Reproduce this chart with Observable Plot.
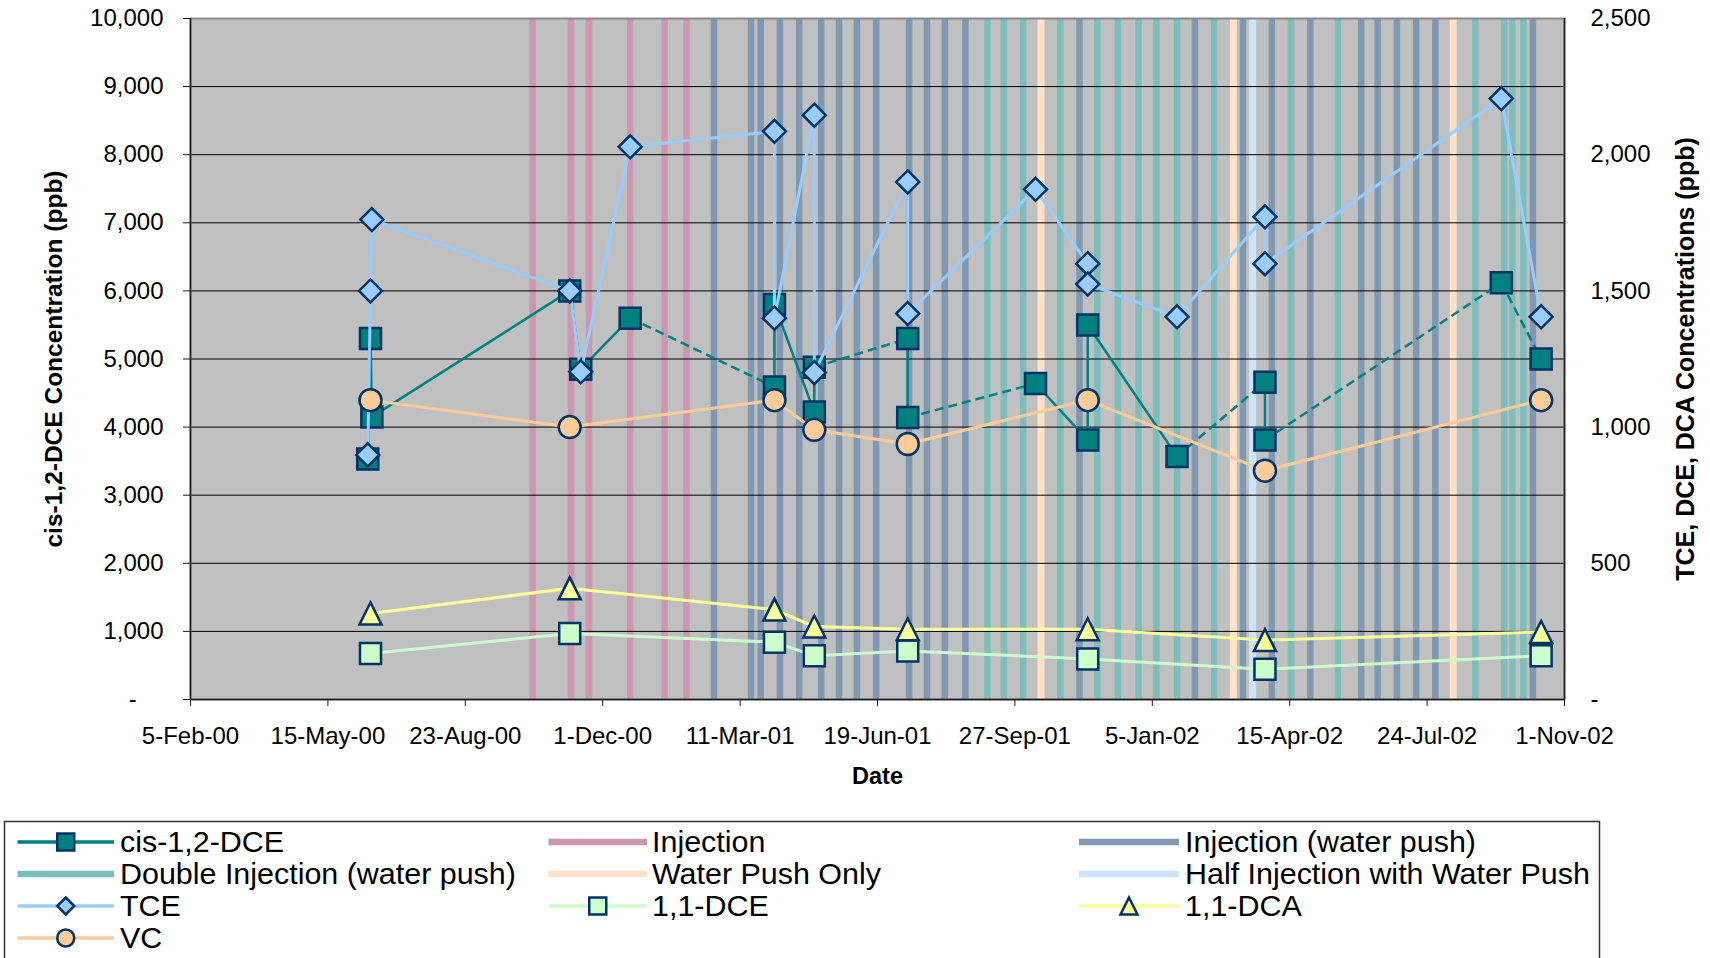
<!DOCTYPE html>
<html>
<head>
<meta charset="utf-8">
<script src="https://cdn.jsdelivr.net/npm/d3@7"></script>
<script src="https://cdn.jsdelivr.net/npm/@observablehq/plot@0.6"></script>
<style>
html, body { margin: 0; padding: 0; background: #fff; }
#wrap { position: relative; width: 1710px; height: 958px; overflow: hidden; font-family: "Liberation Sans", Arial, sans-serif; }
#wrap svg { display: block; }
</style>
</head>
<body>
<div id="wrap"></div>
<script>
// ---------- DATA ----------
const xTickLabels = ["5-Feb-00","15-May-00","23-Aug-00","1-Dec-00","11-Mar-01","19-Jun-01","27-Sep-01","5-Jan-02","15-Apr-02","24-Jul-02","1-Nov-02"];
const yLeftTicks = [0,1000,2000,3000,4000,5000,6000,7000,8000,9000,10000];
const yRightTicks = [0,500,1000,1500,2000,2500];

// cis-1,2-DCE (ppb, left axis)
const cisDates = ["2000-06-13","2000-06-15","2000-06-16","2000-11-07","2000-11-15","2000-12-21","2001-04-05","2001-04-05","2001-05-04","2001-05-04","2001-07-11","2001-07-11","2001-10-12","2001-11-19","2001-11-19","2002-01-23","2002-03-28","2002-03-28","2002-09-16","2002-10-15"];
const cisValues = [3530,5300,4150,6000,4850,5600,4590,5800,4220,4880,5300,4140,4640,3810,5500,3570,4660,3810,6120,5000];
const cisDashedSegments = [6,10,12,16,18,19];

// TCE (ppb, right axis)
const tceDates = ["2000-06-13","2000-06-15","2000-06-16","2000-11-07","2000-11-15","2000-12-21","2001-04-05","2001-04-05","2001-05-04","2001-05-04","2001-07-11","2001-07-11","2001-10-12","2001-11-19","2001-11-19","2002-01-23","2002-03-28","2002-03-28","2002-09-16","2002-10-15"];
const tceValues = [898,1500,1762,1500,1203,2029,2086,1400,2145,1200,1900,1417,1873,1600,1525,1405,1772,1600,2206,1405];

// 1,1-DCE, 1,1-DCA, VC (ppb, right axis)
const otherDates = ["2000-06-15","2000-11-07","2001-04-05","2001-05-04","2001-07-11","2001-11-19","2002-03-28","2002-10-15"];
const dce11Values = [169,242,210,161,178,149,111,161];
const dca11Values = [316,408,330,268,258,258,218,248];
const vcValues = [1099,1000,1099,990,938,1099,840,1099];

// event dates (vertical lines)
const injectionDates = ["2000-10-11","2000-11-08","2000-11-21","2000-12-21","2001-01-15","2001-01-31"];
const injectionWaterPushDates = ["2001-02-20","2001-03-19","2001-03-26","2001-04-09","2001-04-23","2001-05-09","2001-05-22","2001-06-04","2001-06-18","2001-07-12","2001-07-25","2001-08-07","2001-08-22","2001-11-13","2002-02-05","2002-03-12","2002-04-02","2002-04-30","2002-06-06","2002-06-18","2002-07-02","2002-07-16","2002-07-30","2002-10-09"];
const doubleInjectionDates = ["2001-09-07","2001-09-19","2001-10-03","2001-10-30","2001-11-26","2001-12-11","2001-12-26","2002-01-08","2002-01-23","2002-02-19","2002-04-16","2002-05-20","2002-08-28","2002-09-18","2002-09-24","2002-10-02"];
const waterPushOnlyDates = ["2001-10-16","2002-03-05","2002-08-12"];
const halfInjectionDates = ["2002-03-19"];

const legendLabels = ["cis-1,2-DCE","Injection","Injection (water push)","Double Injection (water push)","Water Push Only","Half Injection with Water Push","TCE","1,1-DCE","1,1-DCA","VC"];

// ---------- STYLE ----------
const C = {
  cis: "#008080", tce: "#99CCFF", dce: "#CCFFCC", dca: "#FFFF99", vc: "#FFCC99",
  inj: "#CC97AF", injwp: "#8098B2", dbl: "#7DBEBC", wpo: "#FFE2C8", half: "#CCE4FF",
  edge: "#003366", bg: "#C0C0C0"
};
const FONT = "'Liberation Sans', Arial, sans-serif";

const parseISO = d3.utcParse("%Y-%m-%d");
const parseTick = d3.utcParse("%d-%b-%y");
const fmtTick = d3.utcFormat("%-d-%b-%y");
const xTicks = xTickLabels.map(parseTick);
const RIGHT = 10000 / 2500;

const toSeries = (dates, values, k = 1) => dates.map((d, i) => ({date: parseISO(d), value: values[i] * k}));
const cis = toSeries(cisDates, cisValues);
const tce = toSeries(tceDates, tceValues, RIGHT);
const dce = toSeries(otherDates, dce11Values, RIGHT);
const dca = toSeries(otherDates, dca11Values, RIGHT);
const vc = toSeries(otherDates, vcValues, RIGHT);
const cisSegs = cis.slice(1).map((p, k) => ({x1: cis[k].date, y1: cis[k].value, x2: p.date, y2: p.value, dashed: cisDashedSegments.includes(k + 1)}));

// Excel-like symbols centred on their bounding box
const half = size => Math.sqrt(size / Math.PI);
const symSquare = {draw(c, size) { const s = half(size); c.rect(-s, -s, 2 * s, 2 * s); }};
const symDiamond = {draw(c, size) { const s = half(size); c.moveTo(0, -s); c.lineTo(s, 0); c.lineTo(0, s); c.lineTo(-s, 0); c.closePath(); }};
const symTriangle = {draw(c, size) { const s = half(size); c.moveTo(0, -s); c.lineTo(s, s); c.lineTo(-s, s); c.closePath(); }};
const symCircle = {draw(c, size) { const s = half(size); c.moveTo(s, 0); c.arc(0, 0, s, 0, 2 * Math.PI); }};

const evRule = (dates, color, w) => Plot.ruleX(dates.map(parseISO), {x: d => d, stroke: color, strokeWidth: w});
const dotOpts = (sym, r, fill) => ({x: "date", y: "value", symbol: sym, r, fill, stroke: C.edge, strokeWidth: 2.5});

const W = 1710, H = 810;
const chart = Plot.plot({
  width: W, height: H,
  marginLeft: 190, marginRight: 146, marginTop: 18, marginBottom: 111,
  style: {fontFamily: FONT, fontSize: "24px", color: "#000", background: "#fff", overflow: "visible"},
  x: {type: "utc", domain: [xTicks[0], xTicks[xTicks.length - 1]]},
  y: {domain: [0, 10000]},
  marks: [
    Plot.frame({fill: C.bg}),
    evRule(injectionDates, C.inj, 6.5),
    evRule(injectionWaterPushDates, C.injwp, 6.5),
    evRule(doubleInjectionDates, C.dbl, 6.5),
    evRule(waterPushOnlyDates, C.wpo, 7),
    evRule(halfInjectionDates, C.half, 7),
    Plot.gridY({ticks: yLeftTicks, stroke: "#000", strokeOpacity: 1, strokeWidth: 1}),
    Plot.frame({stroke: "#8a8a8a", strokeWidth: 2}),
    // cis-1,2-DCE
    Plot.link(cisSegs.filter(s => !s.dashed), {x1: "x1", y1: "y1", x2: "x2", y2: "y2", stroke: C.cis, strokeWidth: 2.5}),
    Plot.link(cisSegs.filter(s => s.dashed), {x1: "x1", y1: "y1", x2: "x2", y2: "y2", stroke: C.cis, strokeWidth: 2.5, strokeDasharray: "9,5"}),
    Plot.dot(cis, dotOpts(symSquare, 10.5, C.cis)),
    // TCE
    Plot.line(tce, {x: "date", y: "value", stroke: C.tce, strokeWidth: 3}),
    Plot.dot(tce, dotOpts(symDiamond, 11.5, C.tce)),
    // 1,1-DCE
    Plot.line(dce, {x: "date", y: "value", stroke: C.dce, strokeWidth: 3}),
    Plot.dot(dce, dotOpts(symSquare, 10.5, C.dce)),
    // 1,1-DCA
    Plot.line(dca, {x: "date", y: "value", stroke: C.dca, strokeWidth: 3}),
    Plot.dot(dca, dotOpts(symTriangle, 11, C.dca)),
    // VC
    Plot.line(vc, {x: "date", y: "value", stroke: C.vc, strokeWidth: 3}),
    Plot.dot(vc, dotOpts(symCircle, 11, C.vc)),
    // axis lines
    Plot.ruleX([xTicks[0], xTicks[xTicks.length - 1]], {x: d => d, stroke: "#1a1a1a", strokeWidth: 1.5}),
    Plot.ruleY([0], {stroke: "#1a1a1a", strokeWidth: 1.5}),
    // axes
    Plot.axisX({ticks: xTicks, tickSize: 7, tickPadding: 20, tickFormat: fmtTick, label: null, stroke: "#1a1a1a"}),
    Plot.axisY({ticks: yLeftTicks, anchor: "left", tickSize: 7, tickPadding: 20, label: null, stroke: "#1a1a1a",
      tickFormat: d => d === 0 ? "-\u2007\u2007" : d3.format(",")(d)}),
    Plot.axisY({ticks: yRightTicks.map(v => v * RIGHT), anchor: "right", tickSize: 0, tickPadding: 26, label: null,
      tickFormat: d => d === 0 ? "-" : d3.format(",")(d / RIGHT)}),
    // axis titles
    Plot.text(["cis-1,2-DCE Concentration (ppb)"], {text: d => d, frameAnchor: "left", dx: -136, rotate: -90, textAnchor: "middle", lineAnchor: "middle", fontWeight: "bold", fontSize: 24.5}),
    Plot.text(["TCE, DCE, DCA Concentrations (ppb)"], {text: d => d, frameAnchor: "right", dx: 121, rotate: -90, textAnchor: "middle", lineAnchor: "middle", fontWeight: "bold", fontSize: 25}),
    Plot.text(["Date"], {text: d => d, frameAnchor: "bottom", dy: 77, textAnchor: "middle", lineAnchor: "middle", fontWeight: "bold", fontSize: 23.5})
  ]
});
document.getElementById("wrap").appendChild(chart);

// ---------- LEGEND (below the chart) ----------
const LH = 958 - H;
const leg = d3.select("#wrap").append("svg")
  .attr("width", W).attr("height", LH)
  .style("font-family", FONT);
leg.append("rect").attr("x", 4.5).attr("y", 11.5).attr("width", 1595).attr("height", 300)
  .attr("fill", "#fff").attr("stroke", "#333").attr("stroke-width", 1.5);

const legendItems = [
  {kind: "series", color: C.cis, sym: symSquare},
  {kind: "event", color: C.inj},
  {kind: "event", color: C.injwp},
  {kind: "event", color: C.dbl},
  {kind: "event", color: C.wpo},
  {kind: "event", color: C.half},
  {kind: "series", color: C.tce, sym: symDiamond},
  {kind: "series", color: C.dce, sym: symSquare},
  {kind: "series", color: C.dca, sym: symTriangle},
  {kind: "series", color: C.vc, sym: symCircle}
];
const colX0 = [17.5, 548.5, 1079], colX1 = [114, 647, 1179], colTX = [120, 652, 1185];
const rowY = [32, 64, 96, 128];
legendItems.forEach((it, i) => {
  const col = i % 3, row = Math.floor(i / 3);
  const y = rowY[row], x0 = colX0[col], x1 = colX1[col];
  const g = leg.append("g");
  g.append("line").attr("x1", x0).attr("x2", x1).attr("y1", y).attr("y2", y)
    .attr("stroke", it.color).attr("stroke-width", it.kind === "event" ? 6.5 : 3.3);
  if (it.kind === "series") {
    const r = 8.5;
    g.append("path").attr("d", d3.symbol(it.sym, Math.PI * r * r)())
      .attr("transform", `translate(${(x0 + x1) / 2},${y})`)
      .attr("fill", it.color).attr("stroke", C.edge).attr("stroke-width", 2.5);
  }
  g.append("text").attr("transform", `translate(${colTX[col]},${y}) scale(1.05,1)`).attr("dy", "0.35em")
    .attr("font-size", 29).attr("fill", "#000").text(legendLabels[i]);
});
</script>
</body>
</html>
